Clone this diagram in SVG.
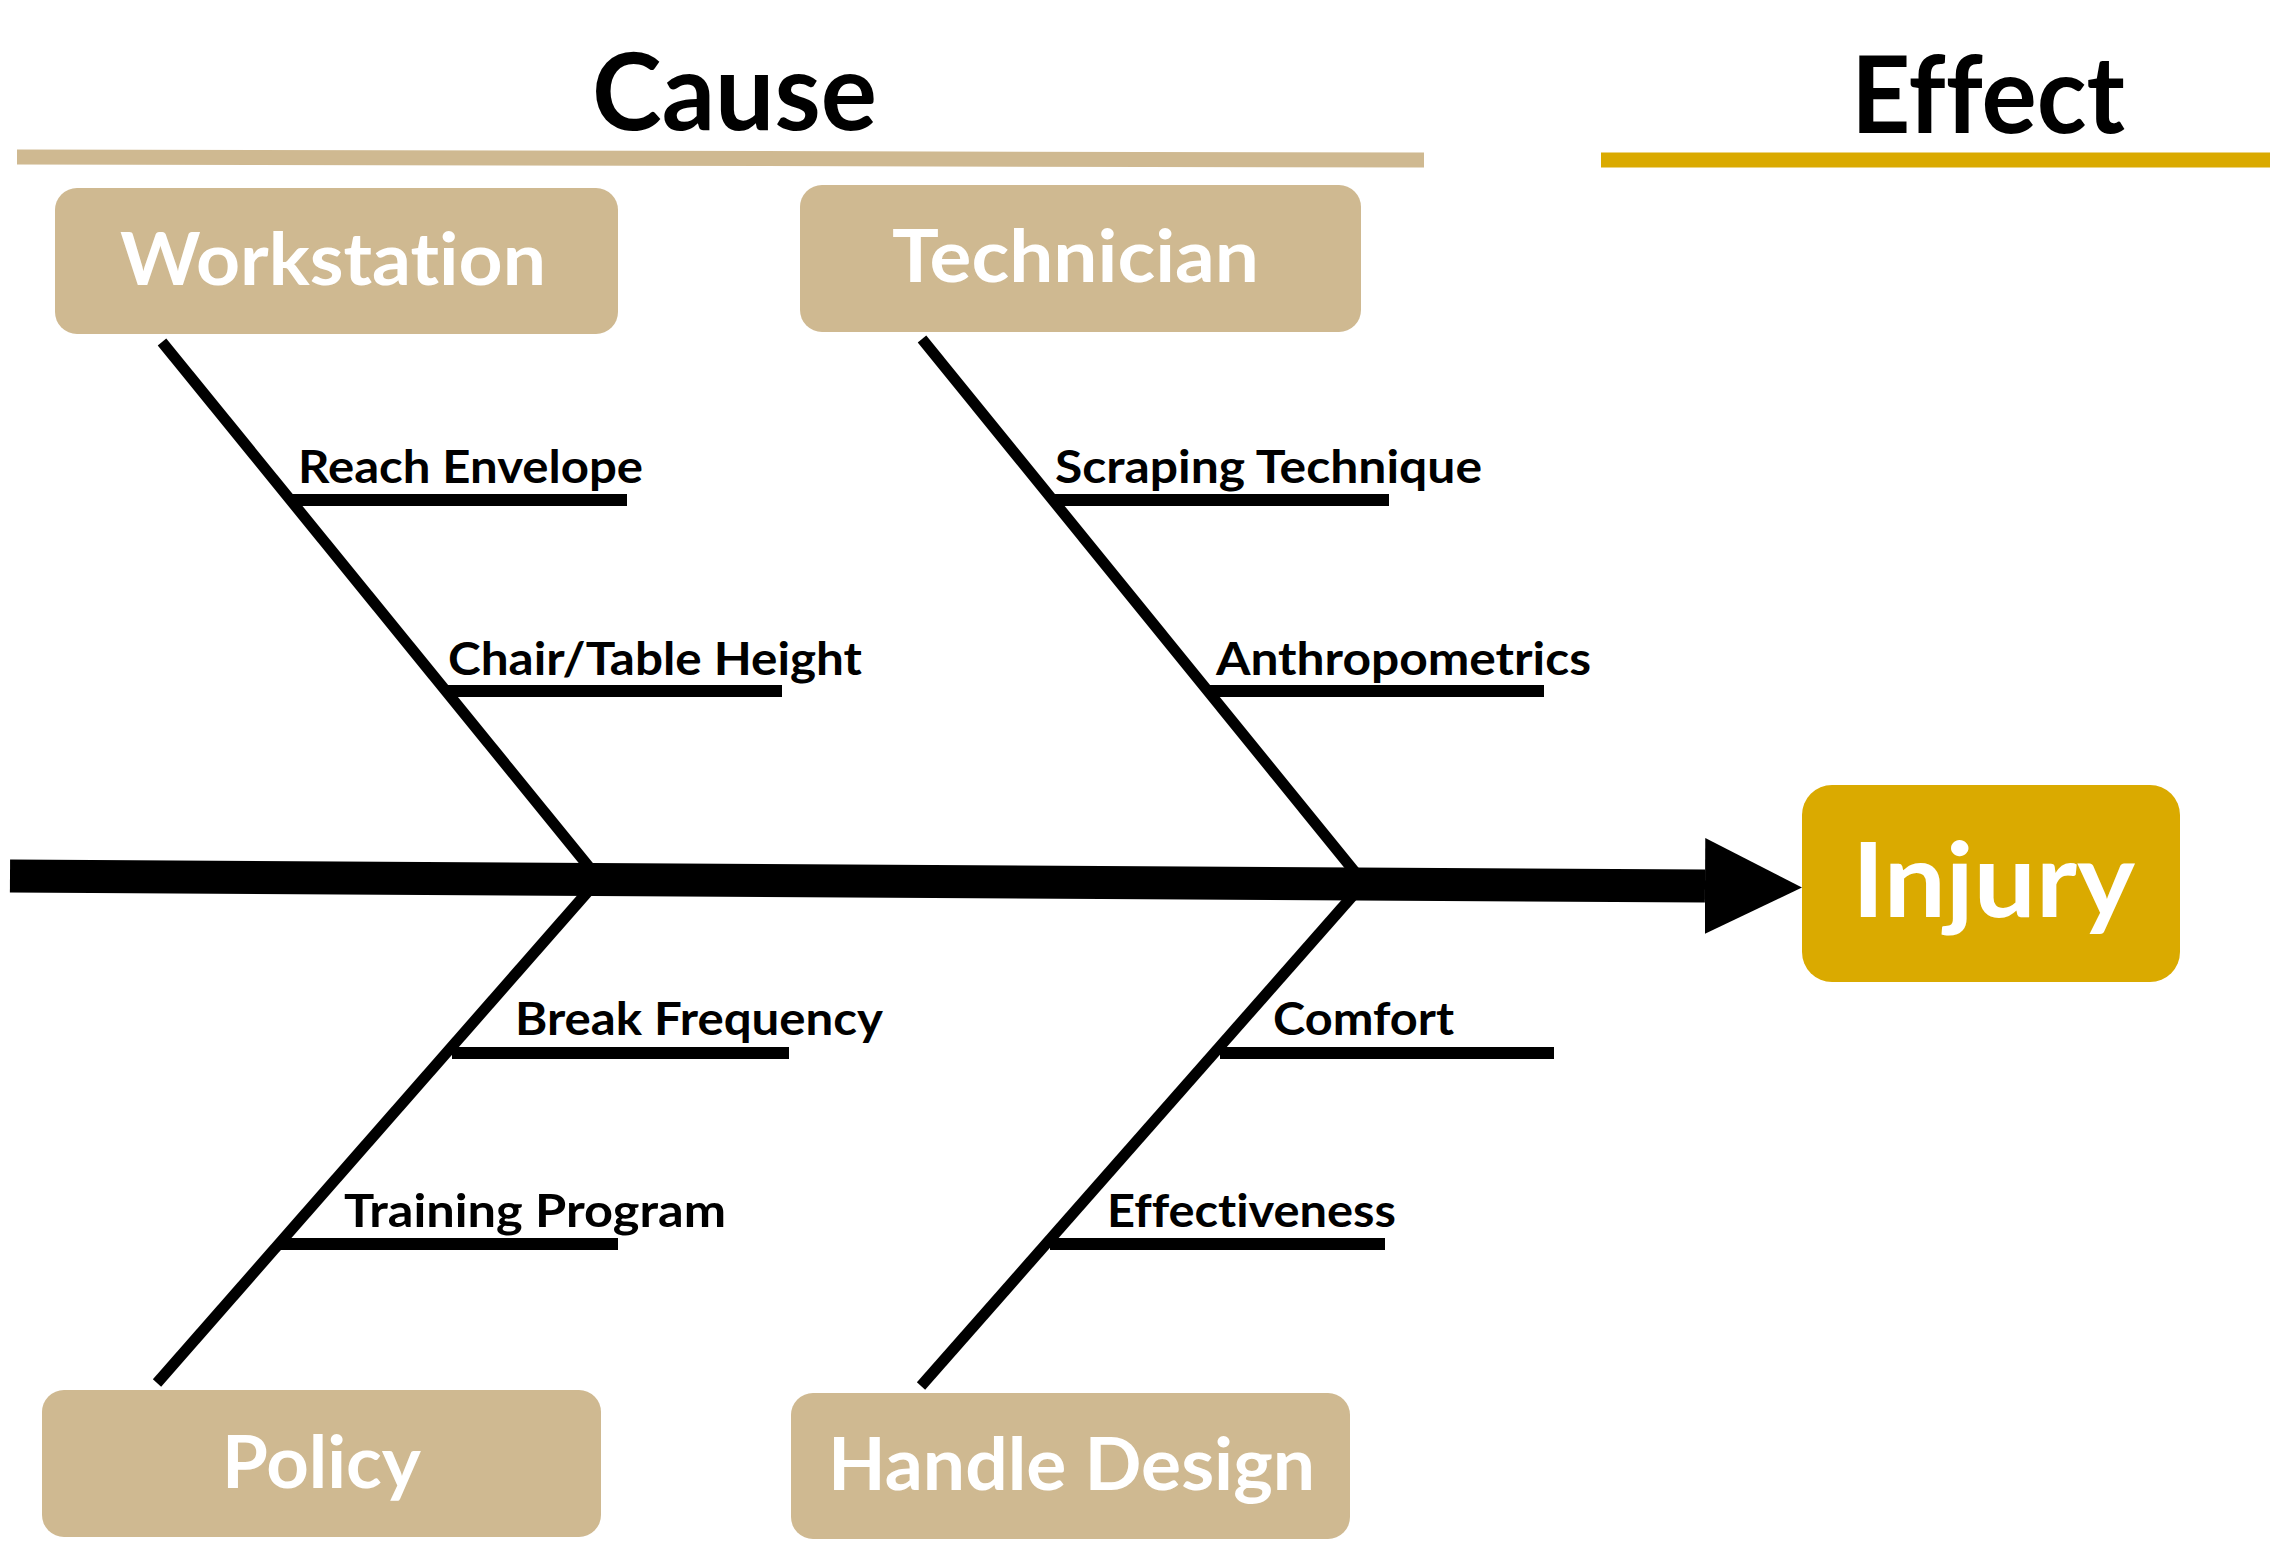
<svg xmlns="http://www.w3.org/2000/svg" width="2270" height="1556" viewBox="0 0 2270 1556">
  <style>
    text { font-family: Lato, "Open Sans", "Liberation Sans", sans-serif; font-weight: bold; font-variant-ligatures: none; font-feature-settings: "liga" 0, "clig" 0; }
    .title { font-size: 108px; fill: #000; }
    .cat { font-size: 73px; fill: #fff; }
    .sub { font-size: 46px; fill: #000; }
    .box { fill: #CFB991; }
    .bone { stroke: #000; stroke-width: 11; fill: none; }
    .rib { stroke: #000; stroke-width: 12; fill: none; }
  </style>
  <defs>
    <marker id="head" markerUnits="userSpaceOnUse" markerWidth="100" markerHeight="100" refX="0" refY="48" orient="auto" viewBox="0 0 100 100">
      <path d="M0,0 L97,49 L0,96 Z" fill="#000"/>
    </marker>
  </defs>
  <rect width="2270" height="1556" fill="#fff"/>

  <!-- headers -->
  <g id="header-cause">
    <text class="title" x="592" y="130" textLength="285" lengthAdjust="spacingAndGlyphs">Cause</text>
    <line x1="17" y1="157" x2="1424" y2="160" stroke="#CFB991" stroke-width="15"/>
  </g>
  <g id="header-effect">
    <text class="title" x="1851" y="133" font-size="105" textLength="274" lengthAdjust="spacingAndGlyphs">Effect</text>
    <line x1="1601" y1="160" x2="2270" y2="160" stroke="#DAAA00" stroke-width="15"/>
  </g>

  <!-- spine, bones and ribs -->
  <g id="connectors">
    <line x1="10" y1="876" x2="1705" y2="886" stroke="#000" stroke-width="33" marker-end="url(#head)"/>
    <line class="bone" x1="162" y1="342" x2="598" y2="878"/>
    <line class="bone" x1="598" y1="880" x2="157" y2="1383"/>
    <line class="bone" x1="922" y1="339" x2="1363" y2="882"/>
    <line class="bone" x1="1363" y1="884" x2="921" y2="1386"/>
    <line class="rib" x1="292" y1="500" x2="627" y2="500"/>
    <line class="rib" x1="446" y1="691" x2="782" y2="691"/>
    <line class="rib" x1="1053" y1="500" x2="1389" y2="500"/>
    <line class="rib" x1="1210" y1="691" x2="1544" y2="691"/>
    <line class="rib" x1="452" y1="1053" x2="789" y2="1053"/>
    <line class="rib" x1="280" y1="1244" x2="618" y2="1244"/>
    <line class="rib" x1="1220" y1="1053" x2="1554" y2="1053"/>
    <line class="rib" x1="1050" y1="1244" x2="1385" y2="1244"/>
  </g>

  <!-- rib labels -->
  <g id="labels">
    <text class="sub" x="298" y="483" textLength="345" lengthAdjust="spacingAndGlyphs">Reach Envelope</text>
    <text class="sub" x="448" y="675" textLength="414" lengthAdjust="spacingAndGlyphs">Chair/Table Height</text>
    <text class="sub" x="1055" y="483" textLength="427" lengthAdjust="spacingAndGlyphs">Scraping Technique</text>
    <text class="sub" x="1216" y="675" textLength="375" lengthAdjust="spacingAndGlyphs">Anthropometrics</text>
    <text class="sub" x="515" y="1035" textLength="368" lengthAdjust="spacingAndGlyphs">Break Frequency</text>
    <text class="sub" x="344" y="1227" textLength="382" lengthAdjust="spacingAndGlyphs">Training Program</text>
    <text class="sub" x="1273" y="1035" textLength="181" lengthAdjust="spacingAndGlyphs">Comfort</text>
    <text class="sub" x="1107" y="1227" textLength="289" lengthAdjust="spacingAndGlyphs">Effectiveness</text>
  </g>

  <!-- category boxes -->
  <g id="workstation">
    <rect class="box" x="55" y="188" width="563" height="146" rx="22"/>
    <text class="cat" x="120" y="285" textLength="426" lengthAdjust="spacingAndGlyphs">Workstation</text>
  </g>
  <g id="technician">
    <rect class="box" x="800" y="185" width="561" height="147" rx="22"/>
    <text class="cat" x="892" y="282" textLength="367" lengthAdjust="spacingAndGlyphs">Technician</text>
  </g>
  <g id="policy">
    <rect class="box" x="42" y="1390" width="559" height="147" rx="22"/>
    <text class="cat" x="222" y="1488" textLength="199" lengthAdjust="spacingAndGlyphs">Policy</text>
  </g>
  <g id="handle-design">
    <rect class="box" x="791" y="1393" width="559" height="146" rx="22"/>
    <text class="cat" x="828" y="1490" textLength="487" lengthAdjust="spacingAndGlyphs">Handle Design</text>
  </g>

  <!-- effect box -->
  <g id="injury">
    <rect x="1802" y="785" width="378" height="197" rx="30" fill="#DAAA00"/>
    <text x="1852" y="917" font-size="103" fill="#fff" textLength="283" lengthAdjust="spacingAndGlyphs">Injury</text>
  </g>
</svg>
